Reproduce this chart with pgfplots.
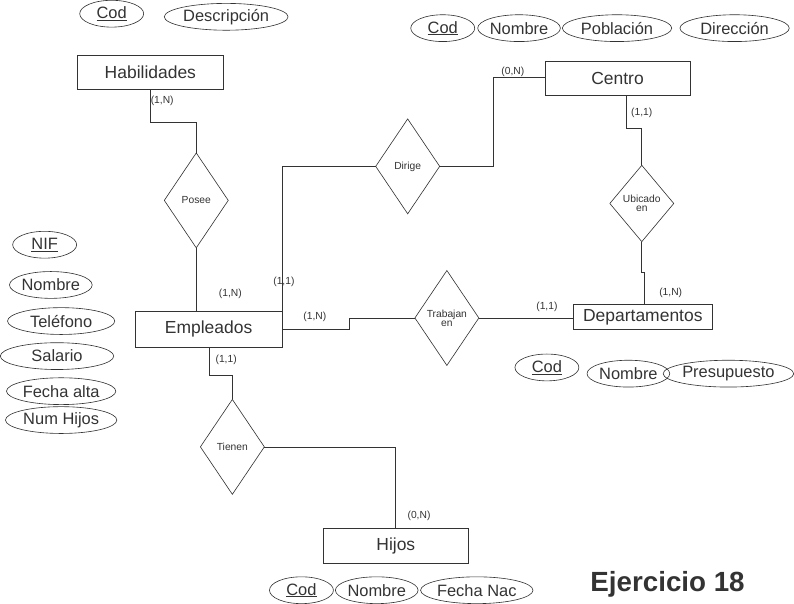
\documentclass[border=0pt]{standalone}
\usepackage{pgfplots}
\pgfplotsset{compat=1.18}
\usetikzlibrary{shapes.geometric}
\usepackage{fontspec}
\setmainfont{Liberation Sans}
\definecolor{ln}{HTML}{333333}
\newcommand{\attr}[5]{\node[ellipse,draw=ln,line width=0.6bp,minimum width=#3bp,minimum height=#4bp,inner sep=0pt,text=ln,font=\fontsize{16}{18}\selectfont] at (axis cs:#1,#2) {#5};}
\newcommand{\ent}[5]{\draw[ln,line width=0.6bp] (axis cs:#1,#2) rectangle (axis cs:#3,#4); \node[text=ln,font=\fontsize{17}{19}\selectfont] at (axis cs:{(#1+#3)/2},{(#2+#4)/2}) {#5};}
\newcommand{\dia}[4]{\addplot[ln,line width=0.6bp] coordinates {(#1-#3,#2) (#1,#2-#4) (#1+#3,#2) (#1,#2+#4) (#1-#3,#2)};}
\newcommand{\lab}[3]{\node[text=ln,font=\fontsize{10}{12}\selectfont,align=center] at (axis cs:#1,#2) {#3};}
\begin{document}
\begin{tikzpicture}
\begin{axis}[width=794bp,height=595bp,scale only axis,hide axis,clip=false,
 xmin=0,xmax=794,ymin=0,ymax=595,y dir=reverse]
\addplot[ln,line width=0.6bp] coordinates {(150,90) (150,122) (195,122) (195,152)};
\addplot[ln,line width=0.6bp] coordinates {(195,244) (195,306)};
\addplot[ln,line width=0.6bp] coordinates {(369,165) (278,165) (278,306)};
\addplot[ln,line width=0.6bp] coordinates {(431,165) (483,165) (483,79) (533,79)};
\addplot[ln,line width=0.6bp] coordinates {(612,96) (612,128) (627,128) (627,164)};
\addplot[ln,line width=0.6bp] coordinates {(627,238) (627,268) (629,268) (629,299)};
\addplot[ln,line width=0.6bp] coordinates {(407,312) (343,312) (343,323) (278,323)};
\addplot[ln,line width=0.6bp] coordinates {(469,312) (561,312)};
\addplot[ln,line width=0.6bp] coordinates {(208,340) (208,368) (230,368) (230,391)};
\addplot[ln,line width=0.6bp] coordinates {(261,437) (388,437) (388,516)};
\dia{195}{198}{31}{46}
\dia{400}{165}{31}{46}
\dia{627}{201}{31}{37}
\dia{438}{312}{31}{46}
\dia{230}{437}{31}{46}
\lab{195}{198}{Posee}
\lab{400}{165}{Dirige}
\lab{627}{201}{Ubicado\\[-3pt]en}
\lab{438}{312}{Trabajan\\[-3pt]en}
\lab{230}{437}{Tienen}
\ent{80}{57}{221}{90}{Habilidades}
\ent{533}{63}{674}{96}{Centro}
\ent{136}{306}{278}{340}{Empleados}
\ent{561}{299}{695}{323}{Departamentos}
\ent{318}{516}{459}{550}{Hijos}
\lab{162}{101}{(1,N)}
\lab{228}{289}{(1,N)}
\lab{280}{277}{(1,1)}
\lab{502}{73}{(0,N)}
\lab{627}{113}{(1,1)}
\lab{655}{288}{(1,N)}
\lab{310}{311}{(1,N)}
\lab{535}{301}{(1,1)}
\lab{224}{353}{(1,1)}
\lab{411}{504}{(0,N)}
\attr{113}{17}{62}{26}{\underline{Cod}}
\attr{224}{20}{120}{26}{Descripción}
\attr{434}{31}{62}{26}{\underline{Cod}}
\attr{508}{31}{74}{26}{Nombre}
\attr{603}{31}{106}{26}{Población}
\attr{717}{31}{106}{26}{Dirección}
\attr{48}{241}{62}{26}{\underline{NIF}}
\attr{54}{280}{74}{26}{Nombre}
\attr{64}{315}{104}{26}{Teléfono}
\attr{60}{349}{110}{26}{Salario}
\attr{64}{383}{106}{26}{Fecha alta}
\attr{64}{411}{108}{26}{Num Hijos}
\attr{535}{360}{62}{26}{\underline{Cod}}
\attr{614}{366}{74}{26}{Nombre}
\attr{711}{366}{106}{26}{Presupuesto}
\attr{297}{576}{62}{26}{\underline{Cod}}
\attr{370}{576}{74}{26}{Nombre}
\attr{467}{576}{106}{26}{Fecha Nac}
\node[text=ln,font=\fontsize{27}{30}\selectfont\bfseries] at (axis cs:652,570) {Ejercicio 18};
\end{axis}
\end{tikzpicture}
\end{document}
